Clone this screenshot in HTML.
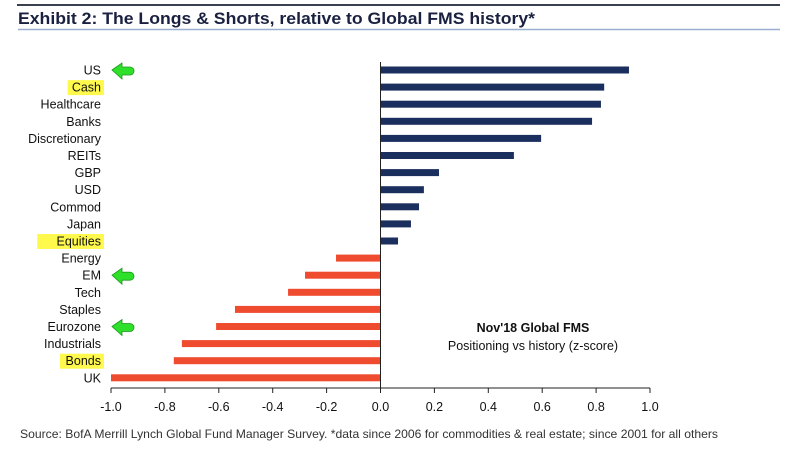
<!DOCTYPE html>
<html><head><meta charset="utf-8"><style>
body{margin:0;background:#fff;width:795px;height:474px;overflow:hidden}
svg{display:block;font-family:"Liberation Sans",sans-serif}
</style></head><body>
<svg id="c" width="795" height="474">
<line x1="17" y1="5" x2="780" y2="5" stroke="#3a4050" stroke-width="2"/>
<text x="18" y="24" font-size="17" font-weight="bold" fill="#1a2140" textLength="517" lengthAdjust="spacingAndGlyphs">Exhibit 2: The Longs &amp; Shorts, relative to Global FMS history*</text>
<line x1="18" y1="29.5" x2="780" y2="29.5" stroke="#9aaed0" stroke-width="1.5"/>
<text x="533" y="332" font-size="12.5" font-weight="bold" text-anchor="middle" fill="#111">Nov'18 Global FMS</text>
<text x="533" y="350" font-size="12.5" text-anchor="middle" fill="#111">Positioning vs history (z-score)</text>
<text x="20" y="438" font-size="12" fill="#333" textLength="698" lengthAdjust="spacingAndGlyphs">Source:  BofA Merrill Lynch Global Fund Manager Survey.  *data since 2006 for commodities &amp; real estate; since 2001 for all others</text>
<g id="plot"></g>
</svg>
<script>
const categories=["US","Cash","Healthcare","Banks","Discretionary","REITs","GBP","USD","Commod","Japan","Equities","Energy","EM","Tech","Staples","Eurozone","Industrials","Bonds","UK"];
const values=[0.922,0.83,0.818,0.785,0.596,0.495,0.217,0.161,0.143,0.113,0.065,-0.165,-0.28,-0.343,-0.54,-0.61,-0.737,-0.767,-1.0];
const highlighted=["Cash","Equities","Bonds"];
const arrowed=["US","EM","Eurozone"];
const ticks=[-1.0,-0.8,-0.6,-0.4,-0.2,0.0,0.2,0.4,0.6,0.8,1.0];
const NS="http://www.w3.org/2000/svg";
const g=document.getElementById('plot');
const x=v=>380.5+v*269.5;
const y=i=>70+i*17.1;
function el(t,a,p){const e=document.createElementNS(NS,t);for(const k in a)e.setAttribute(k,a[k]);(p||g).appendChild(e);return e;}
categories.forEach((c,i)=>{
  const v=values[i];const yc=y(i);
  const b=el('rect',{x:Math.min(x(0),x(v)),y:yc-3.5,width:Math.abs(x(v)-x(0)),height:7,fill:v>=0?'#1b2f5e':'#ee4b2f'});
  
  
  if(highlighted.includes(c)){
    const w=c.length*7.6+6;
    const h=el('rect',{x:104-w,y:yc-7,width:w,height:15,fill:'#fff94d'});
    
    
  }
  const t=el('text',{x:101,y:yc+4.5,'font-size':12.5,'text-anchor':'end',fill:'#111'});
  t.textContent=c;
  
  
  if(arrowed.includes(c)){
    const a=el('path',{d:`M112 ${yc} l10 -7 v4 h8 a4 4 0 0 1 0 8 h-8 v4 z`,fill:'#2ee02a',stroke:'#1a9a1a','stroke-width':0.8});
    
    
  }
});
const ax=el('line',{x1:x(0),y1:62,x2:x(0),y2:388,stroke:'#222','stroke-width':1});


const xa=el('line',{x1:x(-1),y1:388,x2:x(1),y2:388,stroke:'#222','stroke-width':1});


ticks.forEach(v=>{
  const tk=el('line',{x1:x(v),y1:388,x2:x(v),y2:393,stroke:'#222'});
  
  
  const t=el('text',{x:x(v),y:411,'font-size':12.5,'text-anchor':'middle',fill:'#111'});
  t.textContent=v.toFixed(1);
  
  
});
</script>
</body></html>
